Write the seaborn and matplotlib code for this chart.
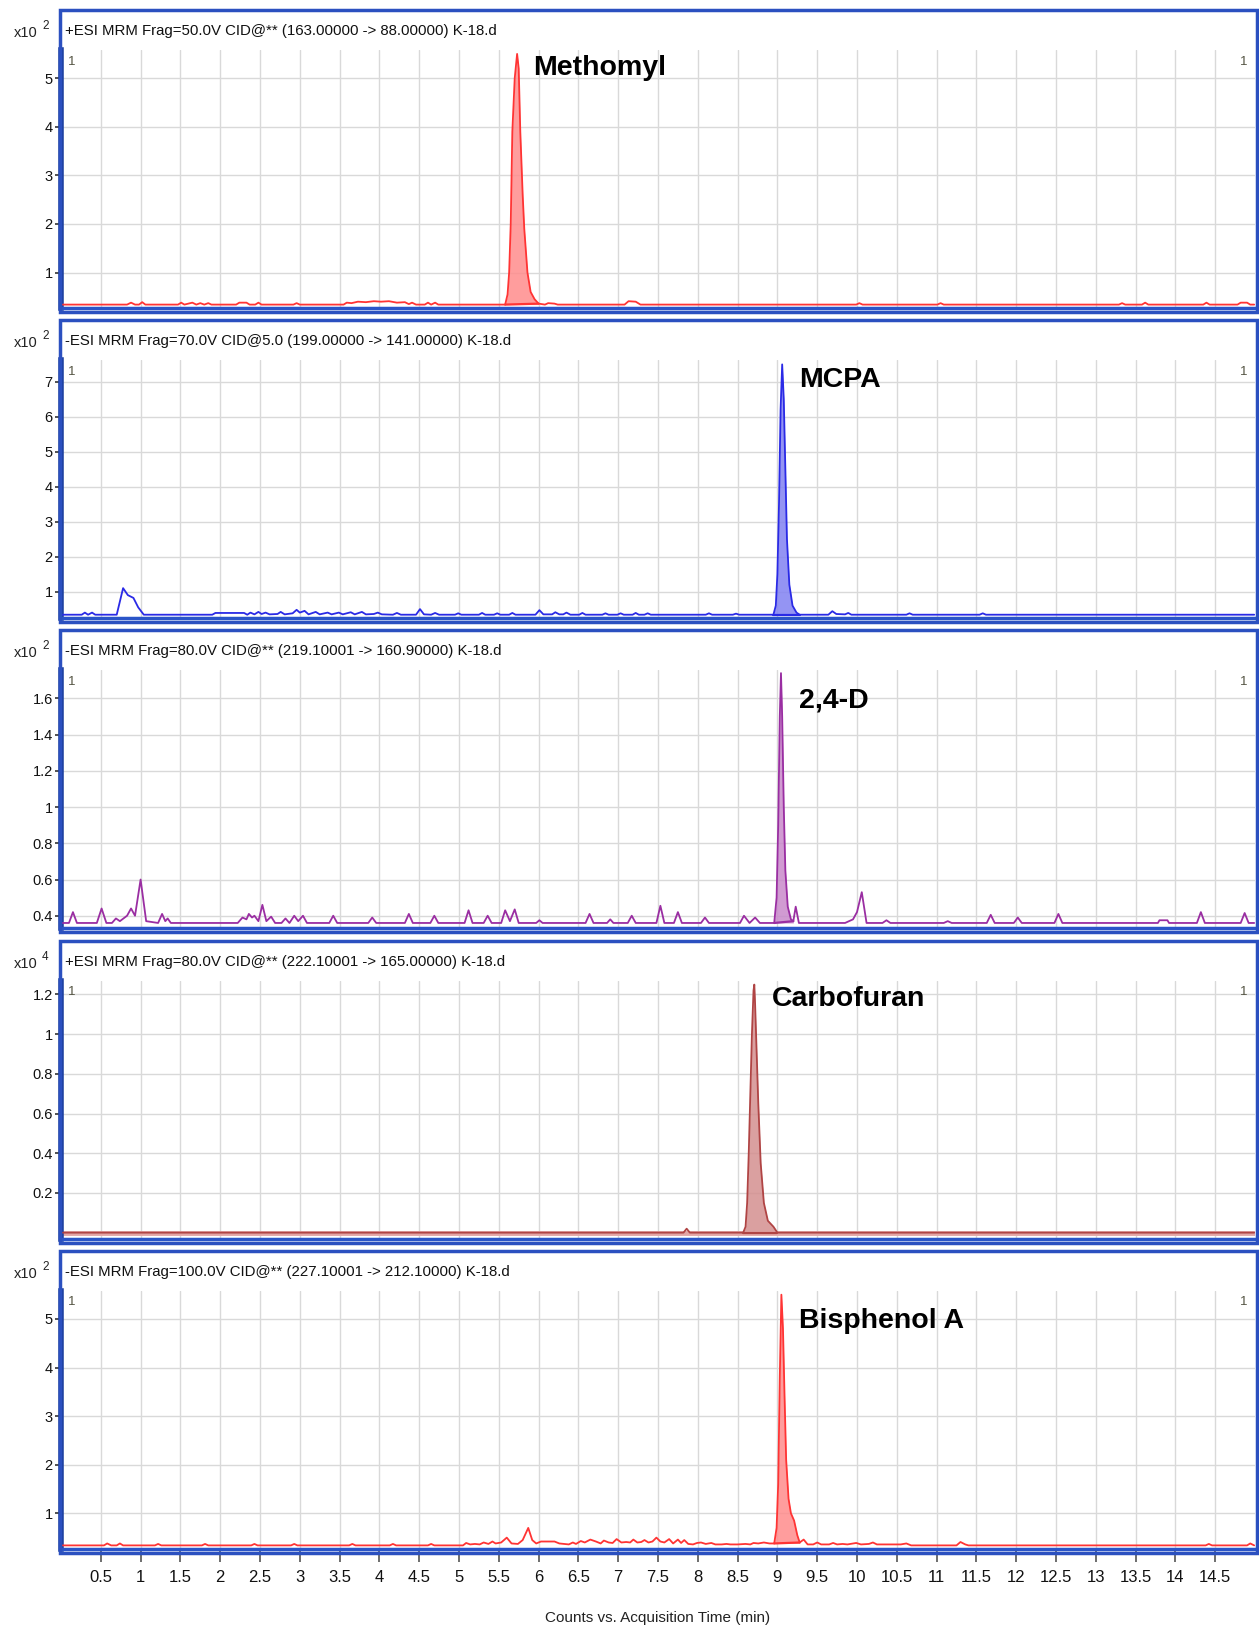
import numpy as np
import matplotlib
matplotlib.use("Agg")
import matplotlib.pyplot as plt
from matplotlib.patches import Rectangle
import seaborn as sns

# ---------------- data ----------------
compounds = ["Methomyl", "MCPA", "2,4-D", "Carbofuran", "Bisphenol A"]
headers = [
    "+ESI MRM Frag=50.0V CID@** (163.00000 -> 88.00000) K-18.d",
    "-ESI MRM Frag=70.0V CID@5.0 (199.00000 -> 141.00000) K-18.d",
    "-ESI MRM Frag=80.0V CID@** (219.10001 -> 160.90000) K-18.d",
    "+ESI MRM Frag=80.0V CID@** (222.10001 -> 165.00000) K-18.d",
    "-ESI MRM Frag=100.0V CID@** (227.10001 -> 212.10000) K-18.d",
]
exponents = ["2", "2", "2", "4", "2"]

methomyl_time = [
    0.02, 0.83, 0.88, 0.93, 0.98, 1.02, 1.06,
    1.47, 1.51, 1.55, 1.65, 1.70, 1.75, 1.80, 1.85, 1.89,
    2.20, 2.24, 2.28, 2.33, 2.37, 2.44, 2.48, 2.52,
    2.92, 2.96, 3.00,
    3.55, 3.59, 3.65, 3.73, 3.83, 3.93, 4.02, 4.12, 4.22, 4.32, 4.37, 4.41, 4.46,
    4.57, 4.61, 4.65, 4.70, 4.74,
    5.58, 5.61, 5.63, 5.65, 5.67, 5.70, 5.73, 5.75, 5.77, 5.80, 5.82, 5.86, 5.90, 5.95, 6.00,
    6.08, 6.12, 6.20, 6.24,
    7.08, 7.13, 7.22, 7.28,
    9.99, 10.03, 10.07,
    11.01, 11.05, 11.09,
    13.29, 13.33, 13.37,
    13.58, 13.62, 13.66,
    14.35, 14.39, 14.43,
    14.78, 14.82, 14.90, 14.94, 14.99,
]
methomyl_counts = [
    0.34, 0.34, 0.38, 0.34, 0.34, 0.39, 0.34,
    0.34, 0.38, 0.34, 0.38, 0.34, 0.37, 0.34, 0.37, 0.34,
    0.34, 0.38, 0.38, 0.38, 0.34, 0.34, 0.38, 0.34,
    0.34, 0.37, 0.34,
    0.34, 0.38, 0.37, 0.40, 0.39, 0.41, 0.40, 0.41, 0.38, 0.39, 0.35, 0.38, 0.34,
    0.34, 0.38, 0.34, 0.38, 0.34,
    0.34, 0.55, 1.00, 2.00, 3.90, 5.00, 5.50, 5.20, 3.90, 2.60, 1.90, 1.00, 0.60, 0.45, 0.36,
    0.34, 0.37, 0.36, 0.34,
    0.34, 0.41, 0.40, 0.34,
    0.34, 0.37, 0.34,
    0.34, 0.37, 0.34,
    0.34, 0.37, 0.34,
    0.34, 0.38, 0.34,
    0.34, 0.38, 0.34,
    0.34, 0.38, 0.38, 0.34, 0.34,
]

mcpa_time = [
    0.02, 0.26, 0.30, 0.34, 0.39, 0.43,
    0.70, 0.78, 0.84, 0.91, 0.97, 1.04,
    1.90, 1.94, 2.30, 2.34, 2.38, 2.43, 2.48, 2.52, 2.57, 2.62, 2.72, 2.76, 2.81,
    2.91, 2.96, 3.00, 3.06, 3.11, 3.20, 3.25, 3.35, 3.40, 3.49, 3.54, 3.64, 3.69,
    3.78, 3.83, 3.93, 3.98, 4.03,
    4.17, 4.22, 4.27, 4.46, 4.51, 4.56, 4.65, 4.70, 4.75,
    4.95, 4.99, 5.03, 5.25, 5.29, 5.33, 5.44, 5.48, 5.52, 5.63, 5.67, 5.71,
    5.96, 6.01, 6.06, 6.17, 6.21, 6.26, 6.31, 6.35, 6.40, 6.51, 6.55, 6.59,
    6.80, 6.84, 6.88, 6.99, 7.03, 7.07, 7.18, 7.22, 7.26, 7.33, 7.37, 7.41,
    8.10, 8.14, 8.18, 8.44, 8.48, 8.52,
    8.95, 8.98, 9.00, 9.02, 9.04, 9.06, 9.08, 9.10, 9.12, 9.15, 9.19, 9.24, 9.28,
    9.64, 9.69, 9.74, 9.85, 9.89, 9.93,
    10.62, 10.66, 10.70, 11.54, 11.58, 11.62, 14.99,
]
mcpa_counts = [
    0.34, 0.34, 0.40, 0.34, 0.40, 0.34,
    0.34, 1.10, 0.90, 0.82, 0.55, 0.34,
    0.34, 0.39, 0.39, 0.34, 0.40, 0.35, 0.42, 0.36, 0.40, 0.35, 0.36, 0.42, 0.35,
    0.38, 0.48, 0.40, 0.45, 0.35, 0.42, 0.35, 0.40, 0.35, 0.40, 0.35, 0.41, 0.35,
    0.42, 0.35, 0.36, 0.40, 0.35,
    0.34, 0.39, 0.34, 0.34, 0.50, 0.35, 0.34, 0.39, 0.34,
    0.34, 0.38, 0.34, 0.34, 0.39, 0.34, 0.34, 0.38, 0.34, 0.34, 0.39, 0.34,
    0.34, 0.47, 0.35, 0.35, 0.41, 0.35, 0.35, 0.40, 0.34, 0.34, 0.39, 0.34,
    0.34, 0.38, 0.34, 0.34, 0.38, 0.34, 0.34, 0.39, 0.34, 0.34, 0.38, 0.34,
    0.34, 0.38, 0.34, 0.34, 0.37, 0.34,
    0.34, 0.60, 1.50, 3.50, 6.20, 7.50, 6.50, 4.50, 2.50, 1.20, 0.60, 0.40, 0.34,
    0.34, 0.44, 0.36, 0.35, 0.39, 0.34,
    0.34, 0.38, 0.34, 0.34, 0.38, 0.34, 0.34,
]

d24_time = [
    0.02, 0.10, 0.15, 0.20,
    0.45, 0.51, 0.57,
    0.64, 0.69, 0.74,
    0.83, 0.88, 0.93, 1.00, 1.07,
    1.22, 1.27, 1.31, 1.34, 1.38,
    2.22, 2.28, 2.33, 2.36, 2.40, 2.43, 2.48, 2.53, 2.58, 2.64, 2.69,
    2.77, 2.82, 2.87, 2.93, 2.98, 3.04, 3.09,
    3.37, 3.42, 3.47,
    3.86, 3.91, 3.96,
    4.32, 4.37, 4.42,
    4.64, 4.69, 4.74,
    5.07, 5.12, 5.17,
    5.31, 5.36, 5.41,
    5.53, 5.58, 5.64, 5.70, 5.75,
    5.97, 6.01, 6.05,
    6.59, 6.64, 6.69,
    6.86, 6.90, 6.94,
    7.12, 7.17, 7.22,
    7.48, 7.53, 7.58,
    7.70, 7.75, 7.80,
    8.04, 8.09, 8.14,
    8.53, 8.58, 8.65, 8.72, 8.78,
    8.96, 8.99, 9.01, 9.03, 9.045, 9.06, 9.08, 9.10, 9.13, 9.17, 9.20, 9.23, 9.27,
    9.85, 9.95, 10.00, 10.06, 10.12,
    10.32, 10.37, 10.42,
    11.09, 11.14, 11.19,
    11.63, 11.68, 11.73,
    11.97, 12.02, 12.07,
    12.48, 12.53, 12.58,
    13.78, 13.80, 13.90, 13.92,
    14.27, 14.32, 14.37,
    14.82, 14.87, 14.92, 14.99,
]
d24_counts = [
    0.36, 0.36, 0.42, 0.36,
    0.36, 0.44, 0.36,
    0.36, 0.385, 0.37,
    0.40, 0.44, 0.40, 0.60, 0.37,
    0.36, 0.41, 0.37, 0.385, 0.36,
    0.36, 0.39, 0.38, 0.41, 0.39, 0.40, 0.37, 0.46, 0.37, 0.395, 0.36,
    0.36, 0.385, 0.36, 0.40, 0.37, 0.40, 0.36,
    0.36, 0.40, 0.36,
    0.36, 0.39, 0.36,
    0.36, 0.41, 0.36,
    0.36, 0.40, 0.36,
    0.36, 0.43, 0.36,
    0.36, 0.40, 0.36,
    0.36, 0.43, 0.37, 0.435, 0.36,
    0.36, 0.375, 0.36,
    0.36, 0.41, 0.36,
    0.36, 0.38, 0.36,
    0.36, 0.40, 0.36,
    0.36, 0.455, 0.36,
    0.36, 0.42, 0.36,
    0.36, 0.39, 0.36,
    0.36, 0.40, 0.36, 0.39, 0.36,
    0.36, 0.50, 0.90, 1.50, 1.74, 1.50, 1.00, 0.65, 0.45, 0.38, 0.37, 0.45, 0.36,
    0.36, 0.38, 0.42, 0.53, 0.36,
    0.36, 0.375, 0.36,
    0.36, 0.37, 0.36,
    0.36, 0.405, 0.36,
    0.36, 0.39, 0.36,
    0.36, 0.41, 0.36,
    0.36, 0.375, 0.375, 0.36,
    0.36, 0.42, 0.36,
    0.36, 0.415, 0.36, 0.36,
]

carbofuran_time = [
    0.02, 7.82, 7.86, 7.90,
    8.57, 8.60, 8.62, 8.64, 8.66, 8.68, 8.70, 8.71, 8.72, 8.74, 8.76, 8.79, 8.83, 8.88, 8.95, 9.00,
    14.99,
]
carbofuran_counts = [
    0.0, 0.0, 0.02, 0.0,
    0.0, 0.03, 0.15, 0.40, 0.70, 1.00, 1.22, 1.25, 1.15, 0.90, 0.65, 0.35, 0.15, 0.06, 0.03, 0.0,
    0.0,
]

bpa_time = [
    0.02, 0.54, 0.58, 0.63, 0.70, 0.74, 0.78,
    1.18, 1.22, 1.26, 1.77, 1.81, 1.85, 2.39, 2.43, 2.47, 2.89, 2.93, 2.97,
    3.62, 3.66, 3.70, 4.13, 4.17, 4.21, 4.61, 4.65, 4.69,
    5.05, 5.09, 5.14, 5.20, 5.26, 5.31, 5.37, 5.42, 5.46, 5.53, 5.60, 5.66, 5.74,
    5.80, 5.87, 5.92, 5.97, 6.03, 6.12, 6.20, 6.26, 6.32, 6.38, 6.43, 6.47, 6.53,
    6.58, 6.65, 6.72, 6.78, 6.82, 6.88, 6.93, 6.98, 7.04, 7.10, 7.15, 7.19, 7.24,
    7.29, 7.33, 7.38, 7.43, 7.48, 7.53, 7.58, 7.64, 7.69, 7.75, 7.79, 7.83, 7.88,
    7.94, 7.99, 8.04, 8.10, 8.17, 8.22, 8.30, 8.36, 8.41, 8.50, 8.60, 8.66, 8.70,
    8.76, 8.83, 8.90,
    8.96, 8.99, 9.01, 9.03, 9.05, 9.07, 9.09, 9.11, 9.14, 9.17, 9.21, 9.25, 9.28,
    9.33, 9.38, 9.45, 9.50, 9.55, 9.65, 9.70, 9.75, 9.82, 9.88, 9.99, 10.05,
    10.15, 10.20, 10.25, 10.55, 10.62, 10.68,
    11.25, 11.30, 11.36, 11.40, 14.38, 14.42, 14.46, 14.90, 14.94, 14.99,
]
bpa_counts = [
    0.34, 0.34, 0.38, 0.34, 0.34, 0.38, 0.34,
    0.34, 0.37, 0.34, 0.34, 0.37, 0.34, 0.34, 0.37, 0.34, 0.34, 0.37, 0.34,
    0.34, 0.37, 0.34, 0.34, 0.37, 0.34, 0.34, 0.37, 0.34,
    0.34, 0.39, 0.36, 0.37, 0.36, 0.40, 0.37, 0.42, 0.38, 0.40, 0.50, 0.38, 0.37,
    0.45, 0.70, 0.45, 0.38, 0.42, 0.42, 0.42, 0.38, 0.37, 0.36, 0.40, 0.37, 0.43,
    0.40, 0.46, 0.42, 0.38, 0.44, 0.40, 0.39, 0.47, 0.40, 0.41, 0.40, 0.46, 0.40,
    0.41, 0.45, 0.40, 0.42, 0.50, 0.42, 0.40, 0.47, 0.38, 0.46, 0.39, 0.45, 0.37,
    0.36, 0.39, 0.40, 0.37, 0.39, 0.36, 0.36, 0.37, 0.36, 0.36, 0.37, 0.36, 0.39,
    0.38, 0.40, 0.38,
    0.38, 0.70, 1.60, 3.80, 5.50, 4.80, 3.40, 2.10, 1.30, 1.00, 0.85, 0.55, 0.40,
    0.46, 0.36, 0.36, 0.40, 0.36, 0.36, 0.39, 0.36, 0.37, 0.36, 0.39, 0.36,
    0.37, 0.40, 0.36, 0.36, 0.38, 0.34,
    0.34, 0.41, 0.36, 0.34, 0.34, 0.37, 0.34, 0.34, 0.38, 0.34,
]

traces_time = [methomyl_time, mcpa_time, d24_time, carbofuran_time, bpa_time]
traces_counts = [methomyl_counts, mcpa_counts, d24_counts, carbofuran_counts, bpa_counts]
peak_windows = [(5.58, 6.00), (8.95, 9.28), (8.96, 9.20), (8.57, 9.00), (8.96, 9.28)]
baselines = [0.34, 0.34, 0.36, 0.0, 0.38]

y_ticks = [
    [1, 2, 3, 4, 5],
    [1, 2, 3, 4, 5, 6, 7],
    [0.4, 0.6, 0.8, 1.0, 1.2, 1.4, 1.6],
    [0.2, 0.4, 0.6, 0.8, 1.0, 1.2],
    [1, 2, 3, 4, 5],
]
y_limits = [(0.27, 5.58), (0.24, 7.62), (0.33, 1.755), (-0.03, 1.27), (0.27, 5.58)]
x_ticks = [0.5, 1, 1.5, 2, 2.5, 3, 3.5, 4, 4.5, 5, 5.5, 6, 6.5, 7, 7.5, 8, 8.5, 9,
           9.5, 10, 10.5, 11, 11.5, 12, 12.5, 13, 13.5, 14, 14.5]
x_tick_labels = ["0.5", "1", "1.5", "2", "2.5", "3", "3.5", "4", "4.5", "5", "5.5", "6",
                 "6.5", "7", "7.5", "8", "8.5", "9", "9.5", "10", "10.5", "11", "11.5",
                 "12", "12.5", "13", "13.5", "14", "14.5"]
x_label = "Counts vs. Acquisition Time (min)"

# ---------------- style ----------------
line_colors = ["#ff3434", "#2a2ae6", "#9a2ea2", "#b04444", "#ff3434"]
fill_colors = ["#ff8c8c", "#8282f2", "#c98acb", "#d48f8f", "#ff8c8c"]
label_pos = [(533, 68), (799, 380), (799, 700), (772, 999), (799, 1321)]

sns.set_theme(style="white")
FAM = ["Liberation Sans", "DejaVu Sans"]
plt.rcParams["font.family"] = FAM

W, H = 1259, 1632
fig = plt.figure(figsize=(W / 100, H / 100), dpi=100)
fig.patch.set_facecolor("white")

def fx(px):
    return px / W

def fy(py):
    return 1 - py / H

for i in range(5):
    T = 10 + 310.2 * i
    ax = fig.add_axes([fx(61), fy(T + 298), fx(1255) - fx(61), (258) / H])
    ax.set_facecolor("white")
    t = np.array(traces_time[i])
    c = np.array(traces_counts[i])
    s, e = peak_windows[i]
    m = (t >= s) & (t <= e)
    ax.fill_between(t[m], c[m], baselines[i], color=fill_colors[i], alpha=0.85, lw=0, zorder=2)
    ax.plot([s, e], [c[m][0], c[m][-1]], color=line_colors[i], lw=1.6, zorder=3)
    if i == 3:
        ax.axhline(0.0, color="#e2a5a5", lw=3.5, zorder=2)
    sns.lineplot(x=t, y=c, ax=ax, color=line_colors[i], linewidth=1.3,
                 estimator=None, sort=False, zorder=4)
    ax.set_xlim(0, 15)
    ax.set_ylim(*y_limits[i])
    ax.set_xticks(x_ticks)
    ax.set_yticks(y_ticks[i])
    ax.set_yticklabels([f"{v:g}" for v in y_ticks[i]], fontsize=10.5,
                       color="#111111")
    ax.grid(True, color="#d9d9d9", lw=1.0, zorder=0)
    ax.set_xlabel("")
    ax.set_ylabel("")
    for side in ["top", "right"]:
        ax.spines[side].set_visible(False)
    ax.spines["left"].set_color("#1c3f9e")
    ax.spines["left"].set_linewidth(4)
    ax.spines["bottom"].set_color("#2a55c8")
    ax.spines["bottom"].set_linewidth(2.5)
    ax.tick_params(axis="y", which="major", length=4, width=1.2, color="#333333",
                   pad=2, left=True)
    if i < 4:
        ax.tick_params(axis="x", length=0, labelbottom=False)
    else:
        ax.set_xticklabels(x_tick_labels, fontsize=12, color="#111111")
        ax.tick_params(axis="x", length=9, width=1.2, color="#555555", pad=6,
                       bottom=True, direction="out")
    # corner "1" labels
    ax.text(0.006, 0.955, "1", transform=ax.transAxes, fontsize=9.5, color="#555544",
            ha="left", va="center")
    ax.text(0.994, 0.955, "1", transform=ax.transAxes, fontsize=9.5, color="#555544",
            ha="right", va="center")
    # frame box
    rect = Rectangle((fx(60), fy(T + 302)), fx(1257) - fx(60), 302 / H,
                     transform=fig.transFigure, fill=False, edgecolor="#2b50c0",
                     lw=2.5, zorder=10)
    fig.add_artist(rect)
    # header + multiplier
    fig.text(fx(65), fy(T + 21), headers[i], fontsize=10.8, color="#111111",
             ha="left", va="center")
    fig.text(fx(14), fy(T + 23), "x10", fontsize=10.5, color="#222222",
             ha="left", va="center")
    fig.text(fx(42), fy(T + 16), exponents[i], fontsize=8.5,
             color="#222222", ha="left", va="center")
    # compound label
    lx, ly = label_pos[i]
    fig.text(fx(lx), fy(ly), compounds[i], fontsize=20.5,
             fontweight="bold", color="#000000", ha="left", va="center")

fig.text(fx(658), fy(1618), x_label, fontsize=11, color="#222222",
         ha="center", va="center")

fig.savefig("out.png", dpi=100, facecolor="white")
